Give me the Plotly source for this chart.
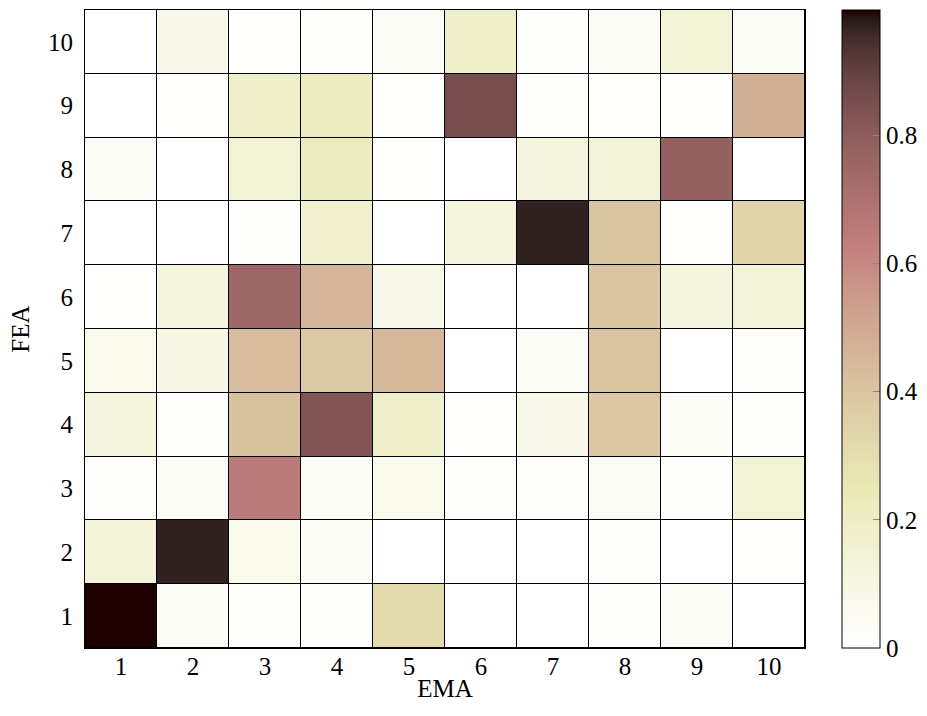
import numpy as np
import plotly.graph_objects as go

ema = list(range(1, 11))   # x categories
fea = list(range(1, 11))   # y categories

# rows: FEA 1..10, columns: EMA 1..10
z_fea1  = [0.995, 0.03, 0.01, 0.01, 0.31, 0.0,   0.0,  0.01, 0.03, 0.0]
z_fea2  = [0.14,  0.97, 0.07, 0.03, 0.0,  0.0,   0.0,  0.01, 0.0,  0.005]
z_fea3  = [0.01,  0.03, 0.65, 0.03, 0.07, 0.01,  0.01, 0.04, 0.01, 0.15]
z_fea4  = [0.12,  0.01, 0.41, 0.83, 0.18, 0.005, 0.08, 0.39, 0.03, 0.01]
z_fea5  = [0.07,  0.10, 0.43, 0.38, 0.45, 0.0,   0.03, 0.40, 0.0,  0.02]
z_fea6  = [0.003, 0.12, 0.75, 0.46, 0.08, 0.0,   0.0,  0.40, 0.12, 0.14]
z_fea7  = [0.0,   0.0,  0.01, 0.17, 0.0,  0.12,  0.97, 0.40, 0.002, 0.34]
z_fea8  = [0.03,  0.0,  0.15, 0.22, 0.005, 0.0,  0.12, 0.14, 0.78, 0.0]
z_fea9  = [0.0,   0.005, 0.18, 0.22, 0.005, 0.86, 0.01, 0.005, 0.002, 0.48]
z_fea10 = [0.0,   0.08, 0.005, 0.015, 0.03, 0.18, 0.01, 0.03, 0.15, 0.03]

z = [z_fea1, z_fea2, z_fea3, z_fea4, z_fea5, z_fea6, z_fea7, z_fea8, z_fea9, z_fea10]

colorbar_ticks = [0, 0.2, 0.4, 0.6, 0.8]
colorbar_ticktext = ["0", "0.2", "0.4", "0.6", "0.8"]


def pink(x):
    # MATLAB / matplotlib "pink": sqrt((2*gray + hot)/3)
    r = min(1.0, x / 0.375)
    g = min(1.0, max(0.0, (x - 0.375) / 0.375))
    b = min(1.0, max(0.0, (x - 0.75) / 0.25))
    rr = np.sqrt((2 * x + r) / 3)
    gg = np.sqrt((2 * x + g) / 3)
    bb = np.sqrt((2 * x + b) / 3)
    return rr, gg, bb


stops = np.linspace(0, 1, 65)
colorscale = []
for s in stops:
    r, g, b = pink(1 - s)
    colorscale.append([float(s), f"rgb({int(round(r*255))},{int(round(g*255))},{int(round(b*255))})"])
# darkest colour like matplotlib pink at 0
colorscale[-1][1] = "rgb(30,0,0)"

font_family = "Liberation Serif"
fs = 25

fig = go.Figure(
    go.Heatmap(
        x=ema,
        y=fea,
        z=z,
        colorscale=colorscale,
        zmin=0,
        zmax=max(max(r) for r in z),
        xgap=1,
        ygap=1,
        colorbar=dict(
            x=1.051,
            xanchor="left",
            xpad=0,
            y=0,
            yanchor="bottom",
            len=1,
            lenmode="fraction",
            ypad=0,
            thickness=38,
            outlinecolor="black",
            outlinewidth=1,
            tickvals=colorbar_ticks,
            ticktext=colorbar_ticktext,
            ticks="inside",
            ticklen=7,
            tickcolor="#888888",
            tickfont=dict(family=font_family, size=fs, color="black"),
        ),
    )
)

fig.update_layout(
    width=927,
    height=716,
    margin=dict(l=85, r=122, t=10, b=68, autoexpand=False),
    paper_bgcolor="white",
    plot_bgcolor="black",
    font=dict(family=font_family, size=fs, color="black"),
    xaxis=dict(
        title=dict(text="EMA", font=dict(family=font_family, size=fs), standoff=0),
        tickvals=ema,
        ticktext=[str(v) for v in ema],
        range=[0.5, 10.5],
        showgrid=False,
        zeroline=False,
        showline=True,
        linecolor="black",
        linewidth=1,
        mirror=True,
        ticks="",
        ticklabelstandoff=-4,
        tickfont=dict(family=font_family, size=fs),
    ),
    yaxis=dict(
        title=dict(text="FEA", font=dict(family=font_family, size=fs), standoff=11),
        tickvals=fea,
        ticktext=[str(v) for v in fea],
        range=[0.5, 10.5],
        showgrid=False,
        zeroline=False,
        showline=True,
        linecolor="black",
        linewidth=1,
        mirror=True,
        ticks="",
        ticklabelstandoff=6,
        tickfont=dict(family=font_family, size=fs),
    ),
)

fig.write_html("out.html")
